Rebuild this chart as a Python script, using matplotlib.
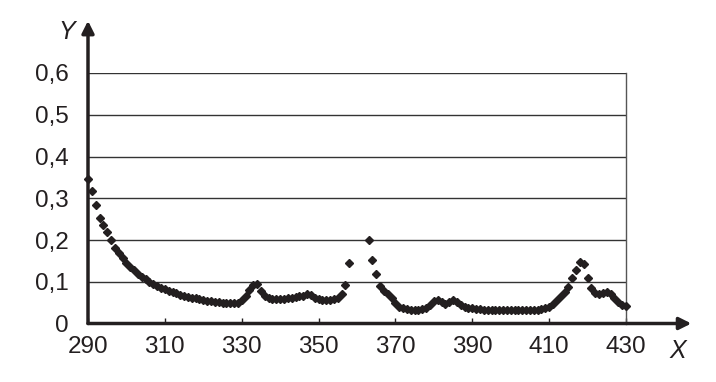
import numpy as np
import matplotlib
matplotlib.use("Agg")
import matplotlib.pyplot as plt

# wavelength grid (nm) and absorbance; gap 359-362 has no points
x_values = list(range(290, 431))
y_values = [
    0.346, 0.318, 0.283, 0.253, 0.237, 0.218, 0.199, 0.181, 0.168, 0.157,  # 290-299
    0.146, 0.136, 0.127, 0.119, 0.112, 0.106, 0.100, 0.095, 0.090, 0.086,  # 300-309
    0.082, 0.078, 0.075, 0.072, 0.069, 0.067, 0.064, 0.062, 0.060, 0.058,  # 310-319
    0.057, 0.055, 0.054, 0.052, 0.051, 0.050, 0.049, 0.048, 0.048, 0.050,  # 320-329
    0.056, 0.065, 0.080, 0.093, 0.094, 0.078, 0.066, 0.061, 0.059, 0.058,  # 330-339
    0.058, 0.059, 0.060, 0.062, 0.064, 0.065, 0.067, 0.070, 0.068, 0.062,  # 340-349
    0.058, 0.057, 0.057, 0.057, 0.058, 0.062, 0.070, 0.092, 0.145, np.nan,  # 350-359
    np.nan, np.nan, np.nan, 0.200, 0.151, 0.119, 0.090, 0.077, 0.070, 0.060,  # 360-369
    0.048, 0.040, 0.036, 0.034, 0.033, 0.033, 0.033, 0.034, 0.037, 0.045,  # 370-379
    0.053, 0.056, 0.052, 0.047, 0.052, 0.057, 0.052, 0.044, 0.040, 0.038,  # 380-389
    0.037, 0.035, 0.034, 0.033, 0.033, 0.032, 0.032, 0.032, 0.032, 0.032,  # 390-399
    0.032, 0.032, 0.032, 0.032, 0.033, 0.033, 0.033, 0.033, 0.034, 0.036,  # 400-409
    0.040, 0.047, 0.056, 0.065, 0.076, 0.088, 0.110, 0.128, 0.148, 0.143,  # 410-419
    0.110, 0.085, 0.072, 0.070, 0.073, 0.075, 0.071, 0.062, 0.052, 0.045,  # 420-429
    0.042,                                                                  # 430
]
x_ticks = [290, 310, 330, 350, 370, 390, 410, 430]
y_ticks = [0, 0.1, 0.2, 0.3, 0.4, 0.5, 0.6]
y_tick_labels = ["0", "0,1", "0,2", "0,3", "0,4", "0,5", "0,6"]

ink = "#231f20"
plt.rcParams["font.family"] = ["Liberation Sans", "DejaVu Sans"]

W, H = 716, 382
fig = plt.figure(figsize=(W / 100, H / 100), dpi=100)
ax = fig.add_axes([88 / W, (H - 323.5) / H, (626 - 88) / W, (323.5 - 73) / H])
ax.set_xlim(290, 430)
ax.set_ylim(0, 0.6)

for s in ["top", "left", "bottom"]:
    ax.spines[s].set_visible(False)
ax.spines["right"].set_color("#555555")
ax.spines["right"].set_linewidth(1.0)

for yv in y_ticks[1:]:
    ax.axhline(yv, color="#333333", lw=1.0, zorder=1)

# axes with arrow heads, extending past the data area
ax.annotate("", xy=(447, 0), xytext=(290, 0), xycoords="data",
            arrowprops=dict(arrowstyle="-|>", lw=2.5, color=ink,
                            mutation_scale=18, shrinkA=0, shrinkB=0),
            annotation_clip=False)
ax.annotate("", xy=(290, 0.725), xytext=(290, 0), xycoords="data",
            arrowprops=dict(arrowstyle="-|>", lw=2.5, color=ink,
                            mutation_scale=18, shrinkA=0, shrinkB=0),
            annotation_clip=False)

ax.plot(x_values, y_values, linestyle="none", marker="D", markersize=4.3,
        color=ink, zorder=3, clip_on=False)

ax.set_xticks(x_ticks)
ax.set_yticks(y_ticks)
ax.set_yticklabels(y_tick_labels)
ax.tick_params(axis="x", direction="in", length=4, width=1, color=ink,
               labelsize=17.5, labelcolor=ink, pad=9)
ax.tick_params(axis="y", length=0, labelsize=17.5, labelcolor=ink, pad=14)

fig.text(678 / W, 1 - 351 / H, "X", fontsize=18, style="italic",
         color=ink, ha="center", va="center")
fig.text(67 / W, 1 - 32 / H, "Y", fontsize=18, style="italic",
         color=ink, ha="center", va="center")

fig.savefig("out.png", dpi=100)
